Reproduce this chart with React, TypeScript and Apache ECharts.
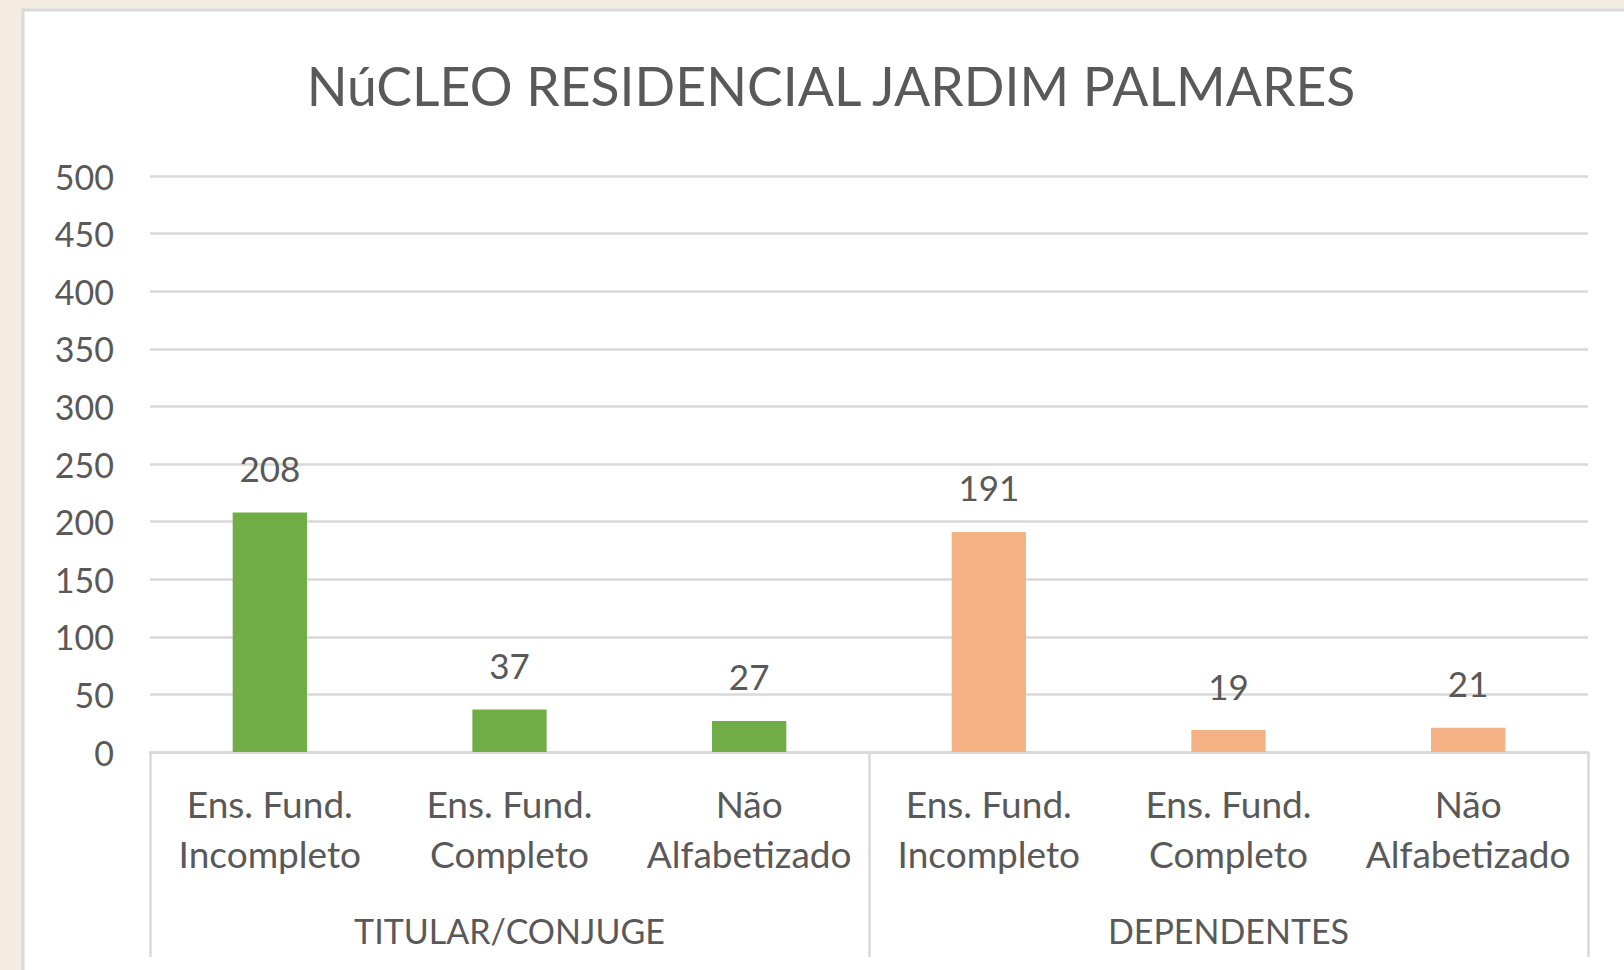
import React, { useEffect, useRef } from "react";
import * as echarts from "echarts";

const titleText = "NúCLEO RESIDENCIAL JARDIM PALMARES";
const groups = ["TITULAR/CONJUGE", "DEPENDENTES"];
const categories = [
  "Ens. Fund.\nIncompleto",
  "Ens. Fund.\nCompleto",
  "Não\nAlfabetizado",
  "Ens. Fund.\nIncompleto",
  "Ens. Fund.\nCompleto",
  "Não\nAlfabetizado",
];
const titularValues = [208, 37, 27];
const dependentesValues = [191, 19, 21];
const groupColors = ["#70ad47", "#f4b183"];
const yMin = 0;
const yMax = 500;
const yInterval = 50;

const TEXT = "#595959";
const GRID = "#d9d9d9";
const FONT = "Lato";

export default function App() {
  const ref = useRef<HTMLDivElement>(null);
  useEffect(() => {
    document.body.style.margin = "0";
    if (!ref.current) return;
    const chart = echarts.init(ref.current, undefined, { renderer: "svg" });
    const data = [
      ...titularValues.map((v) => ({ value: v, itemStyle: { color: groupColors[0] } })),
      ...dependentesValues.map((v) => ({ value: v, itemStyle: { color: groupColors[1] } })),
    ];
    chart.setOption({
      animation: false,
      backgroundColor: "#f4ebe1",
      graphic: [
        {
          type: "rect",
          z: -10,
          shape: { x: 23, y: 10, width: 1700, height: 1000 },
          style: { fill: "#ffffff", stroke: GRID, lineWidth: 3 },
        },
      ],
      title: {
        text: titleText,
        left: 826,
        top: 52.5,
        textAlign: "center",
        textStyle: { fontFamily: FONT, fontSize: 53.5, fontWeight: "normal", color: TEXT },
      },
      grid: { left: 150, right: 36, top: 176, bottom: 218, containLabel: false },
      xAxis: [
        {
          type: "category",
          data: categories,
          position: "bottom",
          axisLine: { show: true, lineStyle: { color: GRID, width: 2.5 } },
          axisTick: { show: false },
          axisLabel: {
            interval: 0,
            margin: 26,
            fontFamily: FONT,
            fontSize: 37,
            lineHeight: 50,
            color: TEXT,
          },
        },
        {
          type: "category",
          data: groups,
          position: "bottom",
          axisLine: { show: false },
          axisTick: { show: true, length: 205, lineStyle: { color: GRID, width: 2.5 } },
          axisLabel: {
            interval: 0,
            margin: 161,
            fontFamily: FONT,
            fontSize: 34,
            color: TEXT,
          },
        },
      ],
      yAxis: {
        type: "value",
        min: yMin,
        max: yMax,
        interval: yInterval,
        axisLine: { show: false },
        axisTick: { show: false },
        splitLine: { lineStyle: { color: GRID, width: 2.5 } },
        axisLabel: { margin: 36, fontFamily: FONT, fontSize: 34, color: TEXT },
      },
      series: [
        {
          type: "bar",
          xAxisIndex: 0,
          barWidth: "31%",
          data,
          label: {
            show: true,
            position: "top",
            distance: 27,
            fontFamily: FONT,
            fontSize: 35,
            color: TEXT,
          },
        },
      ],
    });
    return () => chart.dispose();
  }, []);
  return <div ref={ref} style={{ width: 1624, height: 970 }} />;
}
